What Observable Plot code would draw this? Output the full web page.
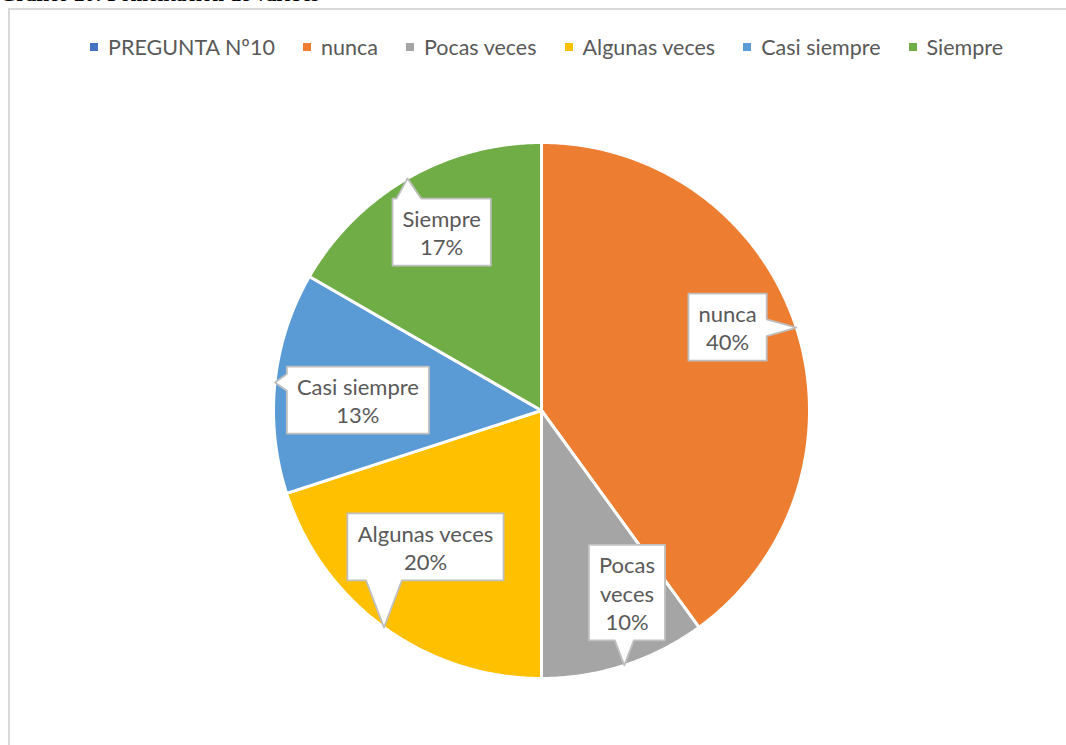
<!DOCTYPE html>
<html>
<head>
<meta charset="utf-8">
<script src="https://cdn.jsdelivr.net/npm/d3@7"></script>
<script src="https://cdn.jsdelivr.net/npm/@observablehq/plot@0.6"></script>
<style>
  html, body { margin: 0; padding: 0; background: #fff; }
  body { width: 1066px; height: 745px; overflow: hidden; position: relative; }
  #title { position: absolute; left: 0; top: -16px; font: bold 21px "Liberation Serif", serif; line-height: 20px; color: #000; white-space: nowrap; }
  #frame { position: absolute; left: 8px; top: 8px; width: 1100px; height: 800px; border: 2px solid #d9d9d9; box-sizing: border-box; }
  #legend { position: absolute; left: 90px; top: 30px; }
  #legend span { margin-right: 28px !important; }
  #legend svg { margin-right: 10px !important; }
  #chart { position: absolute; left: 0; top: 70px; }
</style>
</head>
<body>
<div id="title">Gráfico 20: Fomentación de valores</div>
<div id="frame"></div>
<div id="legend"></div>
<div id="chart"></div>
<script>
// ---- data ----
const seriesName = "PREGUNTA Nº10";
const categories = ["nunca", "Pocas veces", "Algunas veces", "Casi siempre", "Siempre"];
const counts = [12, 3, 6, 4, 5];
// ---- styles ----
const seriesColor = "#4472C4";
const palette = ["#ED7D31", "#A5A5A5", "#FFC000", "#5B9BD5", "#70AD47"];
// manual callout nudges (px, screen right / down), like dragged Excel labels
const labelNudge = [[0, -23], [25, -4], [-1, -22], [11, 10], [-2, -9]];

const R = 268;               // pie radius in px
const FONT = "Lato";
const FS = 22;
const LH = 28.5;
const total = d3.sum(counts);

let acc = 0;
const slices = categories.map((c, i) => {
  const a0 = acc / total * 2 * Math.PI;
  acc += counts[i];
  const a1 = acc / total * 2 * Math.PI;
  return {key: c, value: counts[i], share: counts[i] / total, a0, a1, mid: (a0 + a1) / 2, nudge: labelNudge[i]};
});

// pie wedge outlines (data units: radius 1)
const piePts = slices.flatMap(s => {
  const n = Math.max(2, Math.ceil((s.a1 - s.a0) / (Math.PI / 360)));
  const pts = [{key: s.key, x: 0, y: 0}];
  for (let j = 0; j <= n; j++) {
    const t = s.a0 + (s.a1 - s.a0) * j / n;
    pts.push({key: s.key, x: Math.sin(t), y: Math.cos(t)});
  }
  return pts;
});

// label text and callouts
const ctx = document.createElement("canvas").getContext("2d");
ctx.font = `${FS}px ${FONT}`;
const labels = [];
const callouts = [];
slices.forEach(s => {
  const nameLines = s.share < 0.12 ? s.key.split(" ") : [s.key];
  const lines = [...nameLines, Math.round(s.share * 100) + "%"];
  const tw = d3.max(lines, l => ctx.measureText(l).width);
  const cx = Math.sin(s.mid) * R * 0.73 + s.nudge[0], cy = Math.cos(s.mid) * R * 0.73 - s.nudge[1];
  const tx = Math.sin(s.mid) * R, ty = Math.cos(s.mid) * R;
  const hw = tw / 2 + 10, hh = (lines.length * LH + 10) / 2;
  const x0 = cx - hw, x1 = cx + hw, yb = cy - hh, yt = cy + hh;
  const dx = tx < x0 ? x0 - tx : tx > x1 ? tx - x1 : 0;
  const dy = ty > yt ? ty - yt : ty < yb ? yb - ty : 0;
  const TL = [x0, yt], TR = [x1, yt], BR = [x1, yb], BL = [x0, yb];
  let poly;
  if (dx === 0 && dy === 0) poly = [TL, TR, BR, BL];
  else if (dy >= dx) {
    const bw = Math.min((x1 - x0) * 0.25, 36);
    const bc = Math.max(x0 + bw / 2 + 4, Math.min(x1 - bw / 2 - 4, tx));
    if (ty > yt) poly = [TL, [bc - bw / 2, yt], [tx, ty], [bc + bw / 2, yt], TR, BR, BL];
    else poly = [TL, TR, BR, [bc + bw / 2, yb], [tx, ty], [bc - bw / 2, yb], BL];
  } else {
    const bw = Math.min((yt - yb) * 0.25, 36);
    const bc = Math.max(yb + bw / 2 + 4, Math.min(yt - bw / 2 - 4, ty));
    if (tx > x1) poly = [TL, TR, [x1, bc + bw / 2], [tx, ty], [x1, bc - bw / 2], BR, BL];
    else poly = [TL, TR, BR, BL, [x0, bc - bw / 2], [tx, ty], [x0, bc + bw / 2]];
  }
  poly.forEach(p => callouts.push({key: s.key, x: p[0] / R, y: p[1] / R}));
  labels.push({key: s.key, x: cx / R, y: cy / R, text: lines.join("\n")});
});

const W = 1066, H = 675, CX = 541, CY = 340;
const chart = Plot.plot({
  width: W, height: H,
  marginLeft: CX - R, marginRight: W - (CX + R),
  marginTop: CY - R, marginBottom: H - (CY + R),
  x: {domain: [-1, 1], axis: null},
  y: {domain: [-1, 1], axis: null},
  color: {domain: categories, range: palette},
  style: {background: "transparent"},
  marks: [
    Plot.line(piePts, {x: "x", y: "y", z: "key", fill: "key", stroke: "white", strokeWidth: 3, strokeLinejoin: "round", curve: "linear-closed"}),
    Plot.line(callouts, {x: "x", y: "y", z: "key", fill: "white", stroke: "#bfbfbf", strokeWidth: 1.8, curve: "linear-closed"}),
    Plot.text(labels, {x: "x", y: "y", text: "text", fontSize: FS, lineHeight: LH / FS, fill: "#595959", fontFamily: FONT})
  ]
});
document.getElementById("chart").appendChild(chart);

const legend = Plot.legend({
  legend: "swatches",
  color: {domain: [seriesName, ...categories], range: [seriesColor, ...palette]},
  swatchSize: 8,
  style: {fontFamily: FONT, fontSize: "21.5px", color: "#595959", background: "transparent"}
});
document.getElementById("legend").appendChild(legend);
</script>
</body>
</html>
